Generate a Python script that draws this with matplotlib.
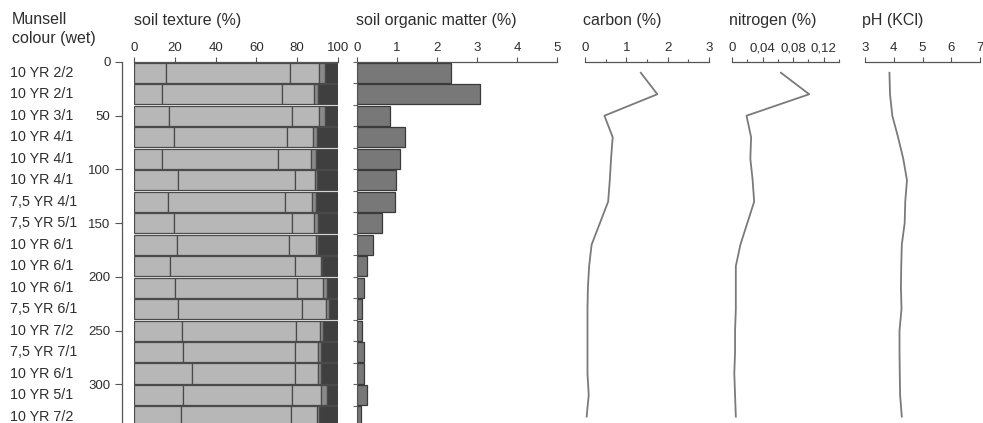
import numpy as np
import matplotlib
matplotlib.use("Agg")
import matplotlib.pyplot as plt
from matplotlib.ticker import MultipleLocator

plt.rcParams['font.family'] = ['Liberation Sans', 'DejaVu Sans']

# Soil profile: 17 horizons of 20 cm each
munsell = ["10 YR 2/2", "10 YR 2/1", "10 YR 3/1", "10 YR 4/1", "10 YR 4/1",
           "10 YR 4/1", "7,5 YR 4/1", "7,5 YR 5/1", "10 YR 6/1", "10 YR 6/1",
           "10 YR 6/1", "7,5 YR 6/1", "10 YR 7/2", "7,5 YR 7/1", "10 YR 6/1",
           "10 YR 5/1", "10 YR 7/2"]
layer_top = [0, 20, 40, 60, 80, 100, 120, 140, 160, 180, 200, 220, 240,
             260, 280, 300, 320]
sample_depth = [10, 30, 50, 70, 90, 110, 130, 150, 170, 190, 210, 230, 250,
                270, 290, 310, 330]

# texture fractions (%), left to right in each bar
frac_1 = [15.7, 13.9, 17.3, 19.7, 13.9, 21.7, 16.6, 19.7, 20.9, 17.7, 20.2,
          21.7, 23.3, 23.8, 28.3, 23.8, 22.8]
frac_2 = [60.9, 58.6, 60.2, 55.2, 56.9, 57.1, 57.3, 57.7, 55.2, 61.1, 59.7,
          60.8, 56.1, 54.9, 50.4, 53.6, 54.0]
frac_3 = [14.0, 15.6, 13.1, 12.9, 15.8, 10.0, 13.4, 10.7, 13.2, 12.8, 12.8,
          11.4, 11.6, 11.5, 11.5, 14.2, 12.7]
frac_4 = [2.8, 2.2, 3.0, 2.0, 2.4, 1.0, 1.7, 1.9, 1.0, 0.5, 1.8, 1.8, 1.7,
          1.4, 1.7, 2.9, 1.1]
frac_5 = [6.6, 9.7, 6.4, 10.2, 11.0, 10.2, 11.0, 10.0, 9.7, 7.9, 5.5, 4.3,
          7.3, 8.4, 8.1, 5.5, 9.4]

organic_matter = [2.34, 3.07, 0.83, 1.21, 1.07, 0.98, 0.94, 0.63, 0.40, 0.25,
                  0.17, 0.13, 0.13, 0.17, 0.17, 0.25, 0.10]
carbon = [1.35, 1.75, 0.47, 0.67, 0.63, 0.60, 0.56, 0.36, 0.16, 0.10, 0.07,
          0.06, 0.06, 0.06, 0.06, 0.09, 0.04]
nitrogen = [0.064, 0.101, 0.019, 0.025, 0.024, 0.027, 0.029, 0.020, 0.011,
            0.005, 0.005, 0.005, 0.004, 0.004, 0.003, 0.004, 0.005]
ph_kcl = [3.85, 3.87, 3.95, 4.15, 4.33, 4.46, 4.40, 4.38, 4.28, 4.26, 4.25,
          4.27, 4.20, 4.20, 4.21, 4.22, 4.28]

W, H = 983, 423
TOP = 62
TXT = '#2e2e2e'
LINE = '#7a7a7a'

fig = plt.figure(figsize=(W / 100, H / 100), dpi=100)


def panel(x0, x1):
    ax = fig.add_axes([x0 / W, 0, (x1 - x0) / W, (H - TOP) / H])
    ax.set_ylim(336, 0)
    ax.xaxis.tick_top()
    for s in ['right', 'bottom', 'left']:
        ax.spines[s].set_visible(False)
    ax.spines['top'].set_color('#555555')
    ax.spines['top'].set_linewidth(0.9)
    ax.tick_params(axis='x', which='both', direction='out', colors='#555555',
                   labelcolor=TXT, labelsize=9.5, pad=2, width=0.8)
    ax.tick_params(axis='x', which='major', length=3.5)
    ax.tick_params(axis='x', which='minor', length=2.5)
    ax.set_yticks([])
    return ax


def title(x, y, text):
    fig.text(x / W, 1 - y / H, text, ha='left', va='center', fontsize=11.5,
             color=TXT)


# soil texture, stacked bars
ax_t = panel(134, 338)
ax_t.set_xlim(0, 100)
ax_t.set_xticks([0, 20, 40, 60, 80, 100])
left = np.zeros(len(layer_top))
for vals, col in [(frac_1, '#b7b7b7'), (frac_2, '#b7b7b7'),
                  (frac_3, '#b7b7b7'), (frac_4, '#8a8a8a'),
                  (frac_5, '#3f3f3f')]:
    ax_t.barh(np.array(layer_top) + 10, vals, left=left, height=18.8,
              color=col, edgecolor='#4a4a4a', linewidth=0.9)
    left += np.array(vals)
ax_t.spines['left'].set_visible(True)
ax_t.spines['left'].set_position(('outward', 9))
ax_t.spines['left'].set_color('#555555')
ax_t.spines['left'].set_linewidth(0.9)
ax_t.set_yticks([0, 50, 100, 150, 200, 250, 300])
ax_t.tick_params(axis='y', direction='out', length=5, width=0.8,
                 colors='#555555', labelcolor=TXT, labelsize=9.5, pad=3)

# Munsell colour labels next to each horizon
trans = matplotlib.transforms.blended_transform_factory(fig.transFigure,
                                                        ax_t.transData)
for name, d in zip(munsell, sample_depth):
    ax_t.text(10 / W, d, name, transform=trans, ha='left', va='center',
              fontsize=10.3, color=TXT)

# soil organic matter
ax_o = panel(357, 557)
ax_o.set_xlim(0, 5)
ax_o.set_xticks([0, 1, 2, 3, 4, 5])
ax_o.barh(np.array(layer_top) + 10, organic_matter, height=18.8,
          color='#787878', edgecolor='#3a3a3a', linewidth=0.9)
ax_o.spines['left'].set_visible(True)
ax_o.spines['left'].set_color('#555555')
ax_o.set_yticks(layer_top)
ax_o.set_yticklabels([])
ax_o.tick_params(axis='y', direction='out', length=3, colors='#666666')

# carbon
ax_c = panel(585, 709)
ax_c.set_xlim(0, 3)
ax_c.set_xticks([0, 1, 2, 3])
ax_c.xaxis.set_minor_locator(MultipleLocator(0.5))
ax_c.plot(carbon, sample_depth, color=LINE, lw=1.3)

# nitrogen
ax_n = panel(732, 839)
ax_n.set_xlim(0, 0.14)
ax_n.set_xticks([0, 0.04, 0.08, 0.12])
ax_n.set_xticklabels(["0", "0,04", "0,08", "0,12"])
ax_n.xaxis.set_minor_locator(MultipleLocator(0.02))
ax_n.plot(nitrogen, sample_depth, color=LINE, lw=1.3)

# pH
ax_p = panel(865, 980)
ax_p.set_xlim(3, 7)
ax_p.set_xticks([3, 4, 5, 6, 7])
ax_p.plot(ph_kcl, sample_depth, color=LINE, lw=1.3)

title(12, 20, "Munsell")
title(12, 38, "colour (wet)")
title(134, 21, "soil texture (%)")
title(356, 21, "soil organic matter (%)")
title(583, 21, "carbon (%)")
title(729, 21, "nitrogen (%)")
title(862, 21, "pH (KCl)")

fig.savefig("out.png", dpi=100)
